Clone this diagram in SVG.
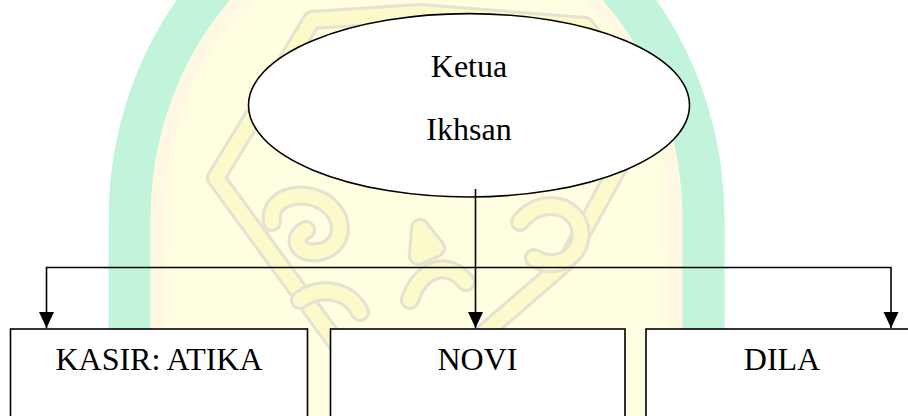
<svg xmlns="http://www.w3.org/2000/svg" width="908" height="416" viewBox="0 0 908 416">
  <defs>
    <style>
      .node { fill: #ffffff; stroke: #000000; stroke-width: 1.6; }
      .label { font-family: "Liberation Serif", "Times New Roman", serif; font-size: 32px; fill: #000000; text-anchor: middle; }
      .edge { fill: none; stroke: #000000; stroke-width: 1.6; marker-end: url(#arrow); }
      .orn-edge { fill: none; stroke: #dcdacd; stroke-width: 20; stroke-linejoin: round; stroke-linecap: round; }
      .orn-fill { fill: none; stroke: #fbf8c4; stroke-width: 14; stroke-linejoin: round; stroke-linecap: round; }
    </style>
    <marker id="arrow" markerUnits="userSpaceOnUse" markerWidth="16" markerHeight="17" refX="16" refY="7.5" orient="auto">
      <path d="M0,0 L16,7.5 L0,15 Z" fill="#000000"/>
    </marker>
  </defs>

  <rect width="908" height="416" fill="#ffffff"/>

  <!-- background emblem: green arch with pale yellow field and ornament -->
  <g id="emblem">
    <path d="M129.5,440 V220 A287,329 0 0 1 703.5,220 V440" fill="#fffee0" stroke="#c2f4db" stroke-width="42"/>
    <path d="M158,440 V220 A258,300 0 0 1 675,220 V440" fill="none" stroke="#fff9e4" stroke-width="14"/>
    <g opacity="0.75">
      <path class="orn-edge" d="M312,20 L420,13 L585,26 L650,110 L566,262 L470,345 M312,20 L216,178 L338,345"/>
      <path class="orn-fill" d="M312,20 L420,13 L585,26 L650,110 L566,262 L470,345 M312,20 L216,178 L338,345"/>
      <path class="orn-edge" d="M272,222 C268,198 300,188 324,202 C348,218 344,248 318,252 C298,255 290,238 306,230"/>
      <path class="orn-fill" d="M272,222 C268,198 300,188 324,202 C348,218 344,248 318,252 C298,255 290,238 306,230"/>
      <path class="orn-edge" d="M520,222 C538,198 574,202 580,228 C585,256 556,272 534,258"/>
      <path class="orn-fill" d="M520,222 C538,198 574,202 580,228 C585,256 556,272 534,258"/>
      <path class="orn-edge" d="M410,300 C420,270 446,258 466,282 M420,228 L436,248 L418,256 Z"/>
      <path class="orn-fill" d="M410,300 C420,270 446,258 466,282 M420,228 L436,248 L418,256 Z"/>
      <path class="orn-edge" d="M300,300 C320,285 350,290 360,312"/>
      <path class="orn-fill" d="M300,300 C320,285 350,290 360,312"/>
    </g>
  </g>

  <g id="node-ketua">
    <ellipse class="node" cx="469" cy="105.3" rx="220.5" ry="91.7"/>
    <text class="label" x="469" y="77" font-size="31.5">Ketua</text>
    <text class="label" x="469" y="140" font-size="31.5">Ikhsan</text>
  </g>

  <g id="node-kasir">
    <rect class="node" x="10.5" y="329" width="297" height="110"/>
    <text class="label" x="159" y="369.5">KASIR: ATIKA</text>
  </g>

  <g id="node-novi">
    <rect class="node" x="330.5" y="329" width="294.5" height="110"/>
    <text class="label" x="477.5" y="370">NOVI</text>
  </g>

  <g id="node-dila">
    <rect class="node" x="646" y="329" width="272" height="110"/>
    <text class="label" x="782" y="370">DILA</text>
  </g>

  <g id="connectors">
    <path class="edge" d="M475.5,189 V328"/>
    <path class="edge" d="M475.5,267.5 H46.5 V328"/>
    <path class="edge" d="M475.5,267.5 H891 V328"/>
  </g>
</svg>
